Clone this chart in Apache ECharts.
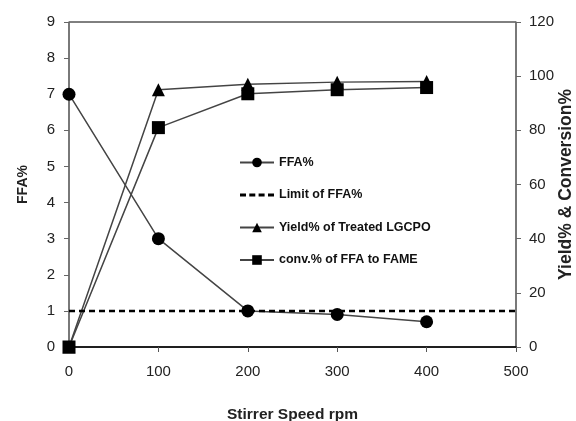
<!DOCTYPE html>
<html>
<head>
<meta charset="utf-8">
<script src="https://cdn.jsdelivr.net/npm/echarts@6/dist/echarts.min.js"></script>
<style>
  html, body { margin: 0; padding: 0; background: #fff; }
  #chart { width: 576px; height: 421px; }
</style>
</head>
<body>
<div id="chart"></div>
<script>
// stirrer speed (rpm)
const speeds = [0, 100, 200, 300, 400];
const ffa = [7, 3, 1, 0.9, 0.7];
const limitX = [0, 500];
const limitFfa = [1, 1];
const yieldPct = [0, 95, 97, 97.8, 98];
const convPct = [0, 81, 93.5, 95, 95.8];

const pairs = (xs, ys) => xs.map((x, i) => [x, ys[i]]);

const font = 'Liberation Sans, Arial, sans-serif';
const lineCol = '#444';
// four short dashes for the limit line legend icon
const dashIcon = 'path://M0,0h6v3h-6z M9.3,0h6v3h-6z M18.6,0h6v3h-6z M28,0h6v3h-6z';

const chart = echarts.init(document.getElementById('chart'));
chart.setOption({
  animation: false,
  grid: {
    left: 69, right: 60, top: 22, bottom: 74,
    outerBoundsMode: 'none',
    show: true, borderColor: '#000', borderWidth: 1
  },
  legend: {
    orient: 'vertical',
    left: 234, top: 151,
    itemWidth: 34, itemHeight: 12, itemGap: 19.5,
    textStyle: { fontFamily: font, fontSize: 12.5, fontWeight: 'bold', color: '#111' },
    data: ['FFA%', { name: 'Limit of FFA%', icon: dashIcon }, 'Yield% of Treated LGCPO', 'conv.% of FFA to FAME']
  },
  xAxis: {
    type: 'value', min: 0, max: 500, interval: 100,
    name: 'Stirrer Speed rpm', nameLocation: 'middle', nameGap: 60,
    nameTextStyle: { fontFamily: font, fontSize: 15.5, fontWeight: 'bold', color: '#222' },
    axisLine: { lineStyle: { color: '#000', width: 1.5 } },
    axisTick: { length: 5, lineStyle: { color: '#555' } },
    splitLine: { show: false },
    axisLabel: { fontFamily: font, fontSize: 15, color: '#222', margin: 17 }
  },
  yAxis: [{
    type: 'value', min: 0, max: 9, interval: 1, position: 'left',
    name: 'FFA%', nameLocation: 'middle', nameGap: 39, nameRotate: 90,
    nameTextStyle: { fontFamily: font, fontSize: 14, fontWeight: 'bold', color: '#222' },
    axisLine: { show: true, lineStyle: { color: '#777', width: 1.5 } },
    axisTick: { show: true, length: 5, lineStyle: { color: '#666' } },
    splitLine: { show: false },
    axisLabel: { fontFamily: font, fontSize: 15, color: '#222', margin: 14 }
  }, {
    type: 'value', min: 0, max: 120, interval: 20, position: 'right',
    name: 'Yield% & Conversion%', nameLocation: 'middle', nameGap: 41, nameRotate: 90,
    nameMoveOverlap: false,
    nameTextStyle: { fontFamily: font, fontSize: 17.5, fontWeight: 'bold', color: '#222' },
    axisLine: { show: true, lineStyle: { color: '#777', width: 1.5 } },
    axisTick: { show: true, length: 5, lineStyle: { color: '#666' } },
    splitLine: { show: false },
    axisLabel: { fontFamily: font, fontSize: 15, color: '#222', margin: 13 }
  }],
  series: [{
    name: 'FFA%', type: 'line', yAxisIndex: 0, clip: false, z: 4,
    data: pairs(speeds, ffa),
    symbol: 'circle', symbolSize: 13,
    itemStyle: { color: '#000' },
    lineStyle: { color: lineCol, width: 1.5 }
  }, {
    name: 'Limit of FFA%', type: 'line', yAxisIndex: 0, clip: false, z: 5,
    data: pairs(limitX, limitFfa),
    symbol: 'none',
    itemStyle: { color: '#000' },
    lineStyle: { color: '#000', width: 2.5, type: [6, 4] }
  }, {
    name: 'Yield% of Treated LGCPO', type: 'line', yAxisIndex: 1, clip: false, z: 3,
    data: pairs(speeds, yieldPct),
    symbol: 'triangle', symbolSize: 13,
    itemStyle: { color: '#000' },
    lineStyle: { color: lineCol, width: 1.5 }
  }, {
    name: 'conv.% of FFA to FAME', type: 'line', yAxisIndex: 1, clip: false, z: 3,
    data: pairs(speeds, convPct),
    symbol: 'rect', symbolSize: 13,
    itemStyle: { color: '#000' },
    lineStyle: { color: lineCol, width: 1.5 }
  }]
});
</script>
</body>
</html>
